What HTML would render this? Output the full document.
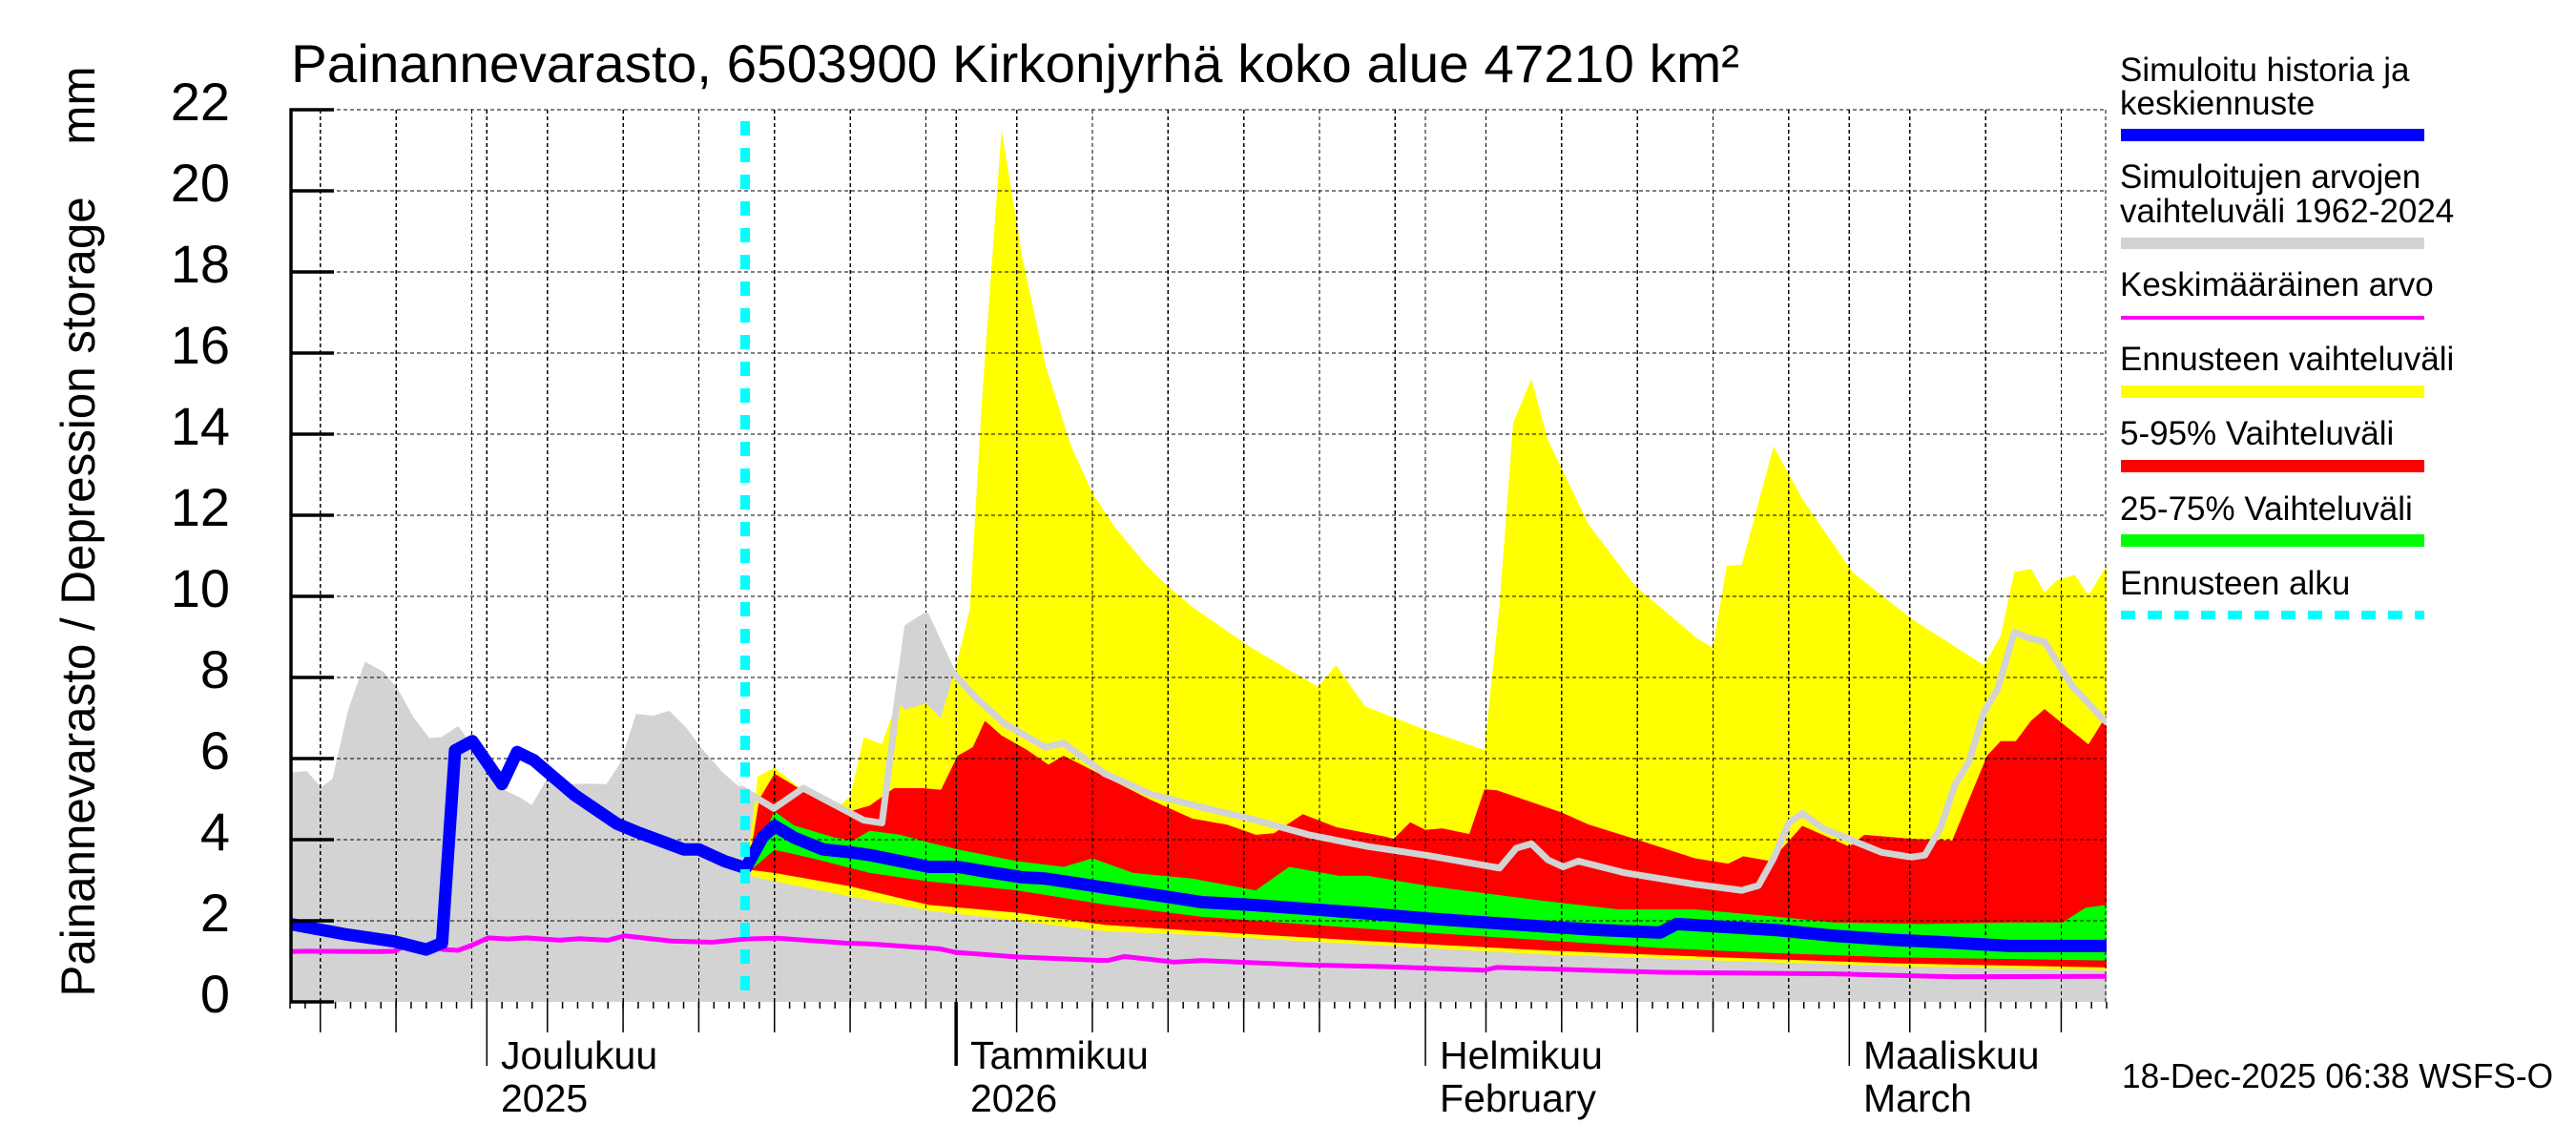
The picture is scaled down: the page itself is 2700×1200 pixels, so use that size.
<!DOCTYPE html>
<html><head><meta charset="utf-8"><style>
html,body{margin:0;padding:0;background:#fff;}
svg{display:block;font-family:"Liberation Sans",Arial,sans-serif;}
</style></head><body>
<svg xmlns="http://www.w3.org/2000/svg" width="2700" height="1200" viewBox="0 0 2700 1200">
<defs><clipPath id="pc"><rect x="304" y="100" width="1904" height="950"/></clipPath></defs>
<rect width="2700" height="1200" fill="#fff"/>
<g clip-path="url(#pc)">
<g transform="translate(304,1050) scale(15.867,-42.5)">
<polygon fill="#d3d3d3" points="0,0 0,5.66 1.1,5.69 2.06,5.29 2.8,5.5 3.84,7.2 4.96,8.39 6.16,8.14 7.1,7.73 8.15,7.02 9.2,6.51 10,6.53 11.1,6.8 11.7,6.5 12.8,5.85 14,5.25 15.1,5.06 15.97,4.86 16.9,5.45 17.8,5.37 19.7,5.38 20.9,5.37 21.8,5.88 22.86,7.1 24,7.06 25.06,7.18 26.2,6.75 27.06,6.31 28.6,5.65 29.6,5.33 31.15,5.02 31.96,4.77 33.9,5.27 37.9,4.48 39.1,4.41 40.1,7.36 40.8,9.24 42,9.52 43.7,8.16 45.3,7.5 47.2,6.86 49.9,6.28 51.1,6.38 53.8,5.63 56.8,5.13 60.2,4.8 63.5,4.51 67.3,4.12 71.2,3.83 75,3.62 79.9,3.3 81,3.79 82,3.9 83.1,3.5 84.1,3.33 85.1,3.47 88.2,3.18 92.8,2.9 95.9,2.75 97,2.87 98,3.54 99,4.41 99.9,4.65 101.3,4.27 103.2,3.98 105.1,3.69 107.1,3.57 108,3.62 109,4.27 110,5.37 110.9,5.92 111.9,7.15 112.8,7.72 113.9,9.12 114.8,8.98 115.9,8.88 117.7,7.8 119.8,6.96 120,6.9 120,0"/>
<polygon fill="#ffff00" points="30.2,3.4 30.9,5.56 32,5.78 33.9,5.2 36,4.75 37,5.06 37.9,6.53 39.1,6.35 40.1,7.43 40.6,7.2 42,7.36 43,7.0 44.1,8.44 44.9,9.67 45.7,14.8 47,21.5 48.4,18.3 49.9,15.7 51.6,13.7 53,12.55 54.5,11.7 56.5,10.8 58,10.24 59.6,9.74 63.5,8.73 67.9,7.77 69.1,8.3 71,7.29 75,6.71 78.9,6.21 79.9,9.81 80.8,14.28 82,15.36 83.1,13.85 85.8,11.76 88.9,10.24 93,8.95 94,8.73 94.9,10.75 95.9,10.78 98,13.7 99.9,12.4 103.2,10.6 107.1,9.45 111.9,8.3 113,9.02 113.9,10.6 115,10.68 115.9,10.1 116.7,10.39 117.9,10.53 118.8,10.03 120,10.75 120,0.78 105.9,0.88 94.3,1.02 82.8,1.17 71.2,1.41 60.2,1.64 53.8,1.74 48,2.0 42.2,2.25 37,2.6 32,2.97 30.5,3.1"/>
<polygon fill="#ff0000" points="30.3,3.4 31,5.0 32,5.63 33.9,5.2 36,4.77 37,4.7 38.3,4.84 39.9,5.27 41.8,5.27 43,5.23 44.1,6.07 45.1,6.28 45.9,6.93 47,6.57 48.7,6.21 50.1,5.85 51.1,6.07 53.8,5.56 56.8,4.99 59.6,4.52 61.9,4.37 63.8,4.12 65,4.16 66.9,4.63 69.1,4.31 72.3,4.08 72.9,4.02 74,4.43 75,4.24 76.1,4.28 77.9,4.14 78.9,5.24 79.7,5.22 84,4.67 85.8,4.37 89,4.0 92.8,3.54 95,3.41 96,3.59 97.8,3.47 99.9,4.34 103,3.83 104,4.12 107.1,4.02 109.8,3.98 112.1,6.07 113,6.43 114,6.43 115,6.93 115.9,7.22 117.1,6.86 118.8,6.35 120,7.07 120,0.85 105.9,0.95 94.3,1.1 82.8,1.27 71.2,1.5 60.2,1.74 53.8,1.9 48,2.2 42.2,2.39 37,2.85 32,3.18 30.5,3.25"/>
<polygon fill="#00ff00" points="30.6,3.6 31.5,4.3 32,4.7 33.3,4.35 36,4.05 37.2,3.98 38.3,4.22 40.3,4.12 42.2,3.93 44.1,3.76 48,3.47 51.1,3.33 53,3.54 55.7,3.18 59.6,3.04 63.8,2.75 66,3.33 69.3,3.11 71.2,3.11 75,2.87 78.9,2.68 82.8,2.49 87.8,2.28 92.8,2.28 98.2,2.1 102,1.96 107.8,1.92 113.6,1.96 117.1,1.96 118.6,2.32 120,2.39 120,1.02 105.9,1.1 98.2,1.2 90.5,1.33 82.8,1.52 71.2,1.8 60.2,2.1 53.8,2.4 48,2.75 42.2,2.97 38.3,3.18 34.5,3.54 32,3.75 30.6,3.3"/>
</g>
<path fill="none" stroke="#000" stroke-width="1.3" stroke-dasharray="4,3" shape-rendering="crispEdges" d="M335.7 115V1050M415.1 115V1050M494.4 115V1050M510.3 115V1050M573.7 115V1050M653.1 115V1050M732.4 115V1050M811.7 115V1050M891.1 115V1050M970.4 115V1050M1002.1 115V1050M1065.6 115V1050M1145 115V1050M1224.3 115V1050M1303.6 115V1050M1382.9 115V1050M1462.3 115V1050M1494 115V1050M1557.5 115V1050M1636.8 115V1050M1716.2 115V1050M1795.5 115V1050M1874.8 115V1050M1938.3 115V1050M2001.8 115V1050M2081.1 115V1050M2160.4 115V1050M2207 115V1050M304 965H2208M304 880H2208M304 795H2208M304 710H2208M304 625H2208M304 540H2208M304 455H2208M304 370H2208M304 285H2208M304 200H2208M304 115H2208"/>
<g transform="translate(304,1050) scale(15.867,-42.5)" fill="none" stroke-linejoin="round" stroke-linecap="round">
<polyline vector-effect="non-scaling-stroke" stroke="#d3d3d3" stroke-width="7" points="29.84,5.25 31.96,4.77 33.9,5.27 37.9,4.48 39.1,4.41 40.1,7.36 40.8,9.24 42,9.52 43.7,8.16 45.3,7.5 47.2,6.86 49.9,6.28 51.1,6.38 53.8,5.63 56.8,5.13 60.2,4.8 63.5,4.51 67.3,4.12 71.2,3.83 75,3.62 79.9,3.3 81,3.79 82,3.9 83.1,3.5 84.1,3.33 85.1,3.47 88.2,3.18 92.8,2.9 95.9,2.75 97,2.87 98,3.54 99,4.41 99.9,4.65 101.3,4.27 103.2,3.98 105.1,3.69 107.1,3.57 108,3.62 109,4.27 110,5.37 110.9,5.92 111.9,7.15 112.8,7.72 113.9,9.12 114.8,8.98 115.9,8.88 117.7,7.8 119.8,6.96 120,6.9"/>
<polyline vector-effect="non-scaling-stroke" stroke="#ff00ff" stroke-width="5" points="0,1.24 1,1.25 6.05,1.24 6.9,1.25 8.05,1.47 10.15,1.29 11.1,1.27 12.04,1.4 13.1,1.58 14.4,1.55 15.6,1.58 17.8,1.52 19.1,1.56 21,1.52 22.1,1.63 25.2,1.5 27.9,1.47 30,1.55 32.2,1.57 34.5,1.51 36.7,1.45 38.3,1.43 42.9,1.31 44,1.22 48,1.11 53,1.03 54,1.02 55.1,1.12 56.8,1.05 58.4,0.98 60.2,1.02 67.3,0.91 72.2,0.87 78.9,0.78 79.7,0.85 90.5,0.73 102,0.69 109.8,0.62 120,0.63"/>
<polyline vector-effect="non-scaling-stroke" stroke="#0000ff" stroke-width="13" points="0,1.92 3.6,1.67 6.9,1.49 9,1.29 10.04,1.45 10.9,6.2 12.04,6.43 14,5.37 15,6.16 16.1,5.96 18.8,5.1 21.6,4.39 22.9,4.19 26,3.76 27,3.76 28.7,3.47 30.1,3.3 31.2,4.05 32,4.34 33.3,4.05 35.2,3.76 37,3.69 38.3,3.62 40.3,3.47 42.2,3.33 44.1,3.33 46,3.21 48.4,3.07 49.9,3.04 53.8,2.82 57.6,2.61 60.2,2.46 63.5,2.39 67.3,2.29 71.2,2.18 75,2.06 78.9,1.96 82.8,1.86 86.6,1.77 90.5,1.71 91.6,1.92 94.3,1.86 98.2,1.77 102,1.63 105.9,1.53 109.8,1.46 113.6,1.38 116.7,1.38 120,1.38"/>
</g>
</g>
<line x1="781" y1="127" x2="781" y2="1046" stroke="#00ffff" stroke-width="10" stroke-dasharray="15,13"/>
<g transform="translate(304,1050) scale(15.867,-42.5)" fill="none" stroke="#000">
<path vector-effect="non-scaling-stroke" stroke-width="1.5" d="M0 0v-.165M1 0v-.165M2 0v-.165M3 0v-.165M4 0v-.165M5 0v-.165M6 0v-.165M7 0v-.165M8 0v-.165M9 0v-.165M10 0v-.165M11 0v-.165M12 0v-.165M13 0v-.165M14 0v-.165M15 0v-.165M16 0v-.165M17 0v-.165M18 0v-.165M19 0v-.165M20 0v-.165M21 0v-.165M22 0v-.165M23 0v-.165M24 0v-.165M25 0v-.165M26 0v-.165M27 0v-.165M28 0v-.165M29 0v-.165M30 0v-.165M31 0v-.165M32 0v-.165M33 0v-.165M34 0v-.165M35 0v-.165M36 0v-.165M37 0v-.165M38 0v-.165M39 0v-.165M40 0v-.165M41 0v-.165M42 0v-.165M43 0v-.165M44 0v-.165M45 0v-.165M46 0v-.165M47 0v-.165M48 0v-.165M49 0v-.165M50 0v-.165M51 0v-.165M52 0v-.165M53 0v-.165M54 0v-.165M55 0v-.165M56 0v-.165M57 0v-.165M58 0v-.165M59 0v-.165M60 0v-.165M61 0v-.165M62 0v-.165M63 0v-.165M64 0v-.165M65 0v-.165M66 0v-.165M67 0v-.165M68 0v-.165M69 0v-.165M70 0v-.165M71 0v-.165M72 0v-.165M73 0v-.165M74 0v-.165M75 0v-.165M76 0v-.165M77 0v-.165M78 0v-.165M79 0v-.165M80 0v-.165M81 0v-.165M82 0v-.165M83 0v-.165M84 0v-.165M85 0v-.165M86 0v-.165M87 0v-.165M88 0v-.165M89 0v-.165M90 0v-.165M91 0v-.165M92 0v-.165M93 0v-.165M94 0v-.165M95 0v-.165M96 0v-.165M97 0v-.165M98 0v-.165M99 0v-.165M100 0v-.165M101 0v-.165M102 0v-.165M103 0v-.165M104 0v-.165M105 0v-.165M106 0v-.165M107 0v-.165M108 0v-.165M109 0v-.165M110 0v-.165M111 0v-.165M112 0v-.165M113 0v-.165M114 0v-.165M115 0v-.165M116 0v-.165M117 0v-.165M118 0v-.165M119 0v-.165M120 0v-.165"/>
<path vector-effect="non-scaling-stroke" stroke-width="1.5" d="M2 0v-.753M7 0v-.753M17 0v-.753M22 0v-.753M27 0v-.753M32 0v-.753M37 0v-.753M48 0v-.753M53 0v-.753M58 0v-.753M63 0v-.753M68 0v-.753M79 0v-.753M84 0v-.753M89 0v-.753M94 0v-.753M99 0v-.753M107 0v-.753M112 0v-.753M117 0v-.753M13 0v-1.576M75 0v-1.576M103 0v-1.576"/>
<path vector-effect="non-scaling-stroke" stroke-width="3.5" d="M44 0v-1.576"/>
</g>
<path fill="none" stroke="#000" stroke-width="3.4" d="M305 113.3V1050M304 115H350M304 200H350M304 285H350M304 370H350M304 455H350M304 540H350M304 625H350M304 710H350M304 795H350M304 880H350M304 965H350M304 1050H350"/>
<g font-size="56" text-anchor="end" fill="#000">
<text x="241" y="126">22</text><text x="241" y="211">20</text><text x="241" y="296">18</text><text x="241" y="381">16</text><text x="241" y="466">14</text><text x="241" y="551">12</text><text x="241" y="636">10</text><text x="241" y="721">8</text><text x="241" y="806">6</text><text x="241" y="891">4</text><text x="241" y="976">2</text><text x="241" y="1061">0</text>
</g>
<text x="305" y="86" font-size="56" textLength="1518" lengthAdjust="spacingAndGlyphs" fill="#000">Painannevarasto, 6503900 Kirkonjyrhä koko alue 47210 km²</text>
<text transform="translate(99,557) rotate(-90)" text-anchor="middle" font-size="50" textLength="975" lengthAdjust="spacingAndGlyphs" xml:space="preserve" style="white-space:pre" fill="#000">Painannevarasto / Depression storage    mm</text>
<g font-size="41" fill="#000">
<text x="525" y="1120">Joulukuu</text><text x="525" y="1165">2025</text>
<text x="1017" y="1120">Tammikuu</text><text x="1017" y="1165">2026</text>
<text x="1509" y="1120">Helmikuu</text><text x="1509" y="1165">February</text>
<text x="1953" y="1120">Maaliskuu</text><text x="1953" y="1165">March</text>
</g>
<g font-size="35" fill="#000">
<text x="2222" y="85">Simuloitu historia ja</text>
<text x="2222" y="120">keskiennuste</text>
<text x="2222" y="197">Simuloitujen arvojen</text>
<text x="2222" y="233">vaihteluväli 1962-2024</text>
<text x="2222" y="310">Keskimääräinen arvo</text>
<text x="2222" y="388">Ennusteen vaihteluväli</text>
<text x="2222" y="466">5-95% Vaihteluväli</text>
<text x="2222" y="545">25-75% Vaihteluväli</text>
<text x="2222" y="623">Ennusteen alku</text>
</g>
<rect x="2223" y="135" width="318" height="13" fill="#0000ff"/>
<rect x="2223" y="249" width="318" height="12" fill="#d3d3d3"/>
<rect x="2223" y="331" width="318" height="4" fill="#ff00ff"/>
<rect x="2223" y="404" width="318" height="13" fill="#ffff00"/>
<rect x="2223" y="482" width="318" height="13" fill="#ff0000"/>
<rect x="2223" y="560" width="318" height="13" fill="#00ff00"/>
<line x1="2223" y1="644.5" x2="2541" y2="644.5" stroke="#00ffff" stroke-width="9" stroke-dasharray="15,13"/>
<text x="2224" y="1140" font-size="36" textLength="452" lengthAdjust="spacingAndGlyphs" fill="#000">18-Dec-2025 06:38 WSFS-O</text>
</svg>
</body></html>
